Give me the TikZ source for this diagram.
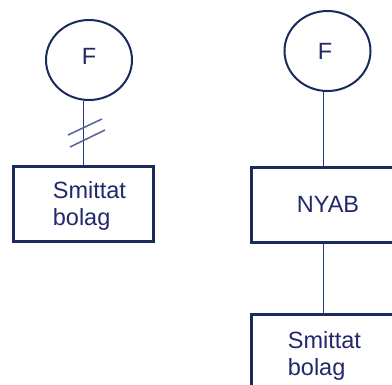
\documentclass[tikz,border=0pt]{standalone}
\usepackage{fontspec}
\setmainfont{Liberation Sans}
\usetikzlibrary{shapes.geometric}
\definecolor{navy}{HTML}{1B2A5C}
\definecolor{linec}{HTML}{1F388C}
\definecolor{txt}{HTML}{22286A}
\definecolor{hash}{HTML}{5A6A9C}
\begin{document}
\begin{tikzpicture}[x=1bp,y=-1bp,
  circ/.style={draw=navy,line width=2bp,ellipse,minimum width=86bp,minimum height=80bp,inner sep=0pt},
  boxn/.style={draw=navy,line width=3bp,minimum width=140.3bp,minimum height=75.3bp,inner sep=0pt},
  boxr/.style={draw=navy,line width=3bp,minimum width=143.6bp,minimum height=75bp,inner sep=0pt},
  conn/.style={draw=linec,line width=1.6bp},
  lbl/.style={text=txt,font=\fontsize{23.5bp}{27bp}\selectfont,inner sep=0pt},
  hashline/.style={draw=hash,line width=1.6bp}]
\useasboundingbox (0,0) rectangle (392,385);
% left
\node[circ] (lc) at (89,60) {};
\node[lbl] at (89,56.5) {F};
\node[boxn] (lbox) at (83.3,204.2) {};
\node[lbl,align=left,anchor=north west] (ltxt) at (52.7,181.2) {Smittat\\bolag};
\draw[conn] (lbox.north) -- (lbox.north |- lc.south);
\draw[hashline] (68,135) -- (102,119);
\draw[hashline] (70,147) -- (105,130);
% right
\node[circ] (rc) at (327.5,51) {};
\node[lbl] at (325,51) {F};
\node[boxr] (nyab) at (323.3,204.5) {};
\node[lbl] (ntxt) at (328,204.5) {NYAB};
\node[boxr,anchor=north] (rbox) at (323.3,313.3) {};
\node[lbl,align=left,anchor=north west] (rtxt) at (287.7,331.2) {Smittat\\bolag};
\draw[conn] (nyab.north) -- (nyab.north |- rc.south);
\draw[conn] (nyab.south) -- (rbox.north);
\end{tikzpicture}
\end{document}
